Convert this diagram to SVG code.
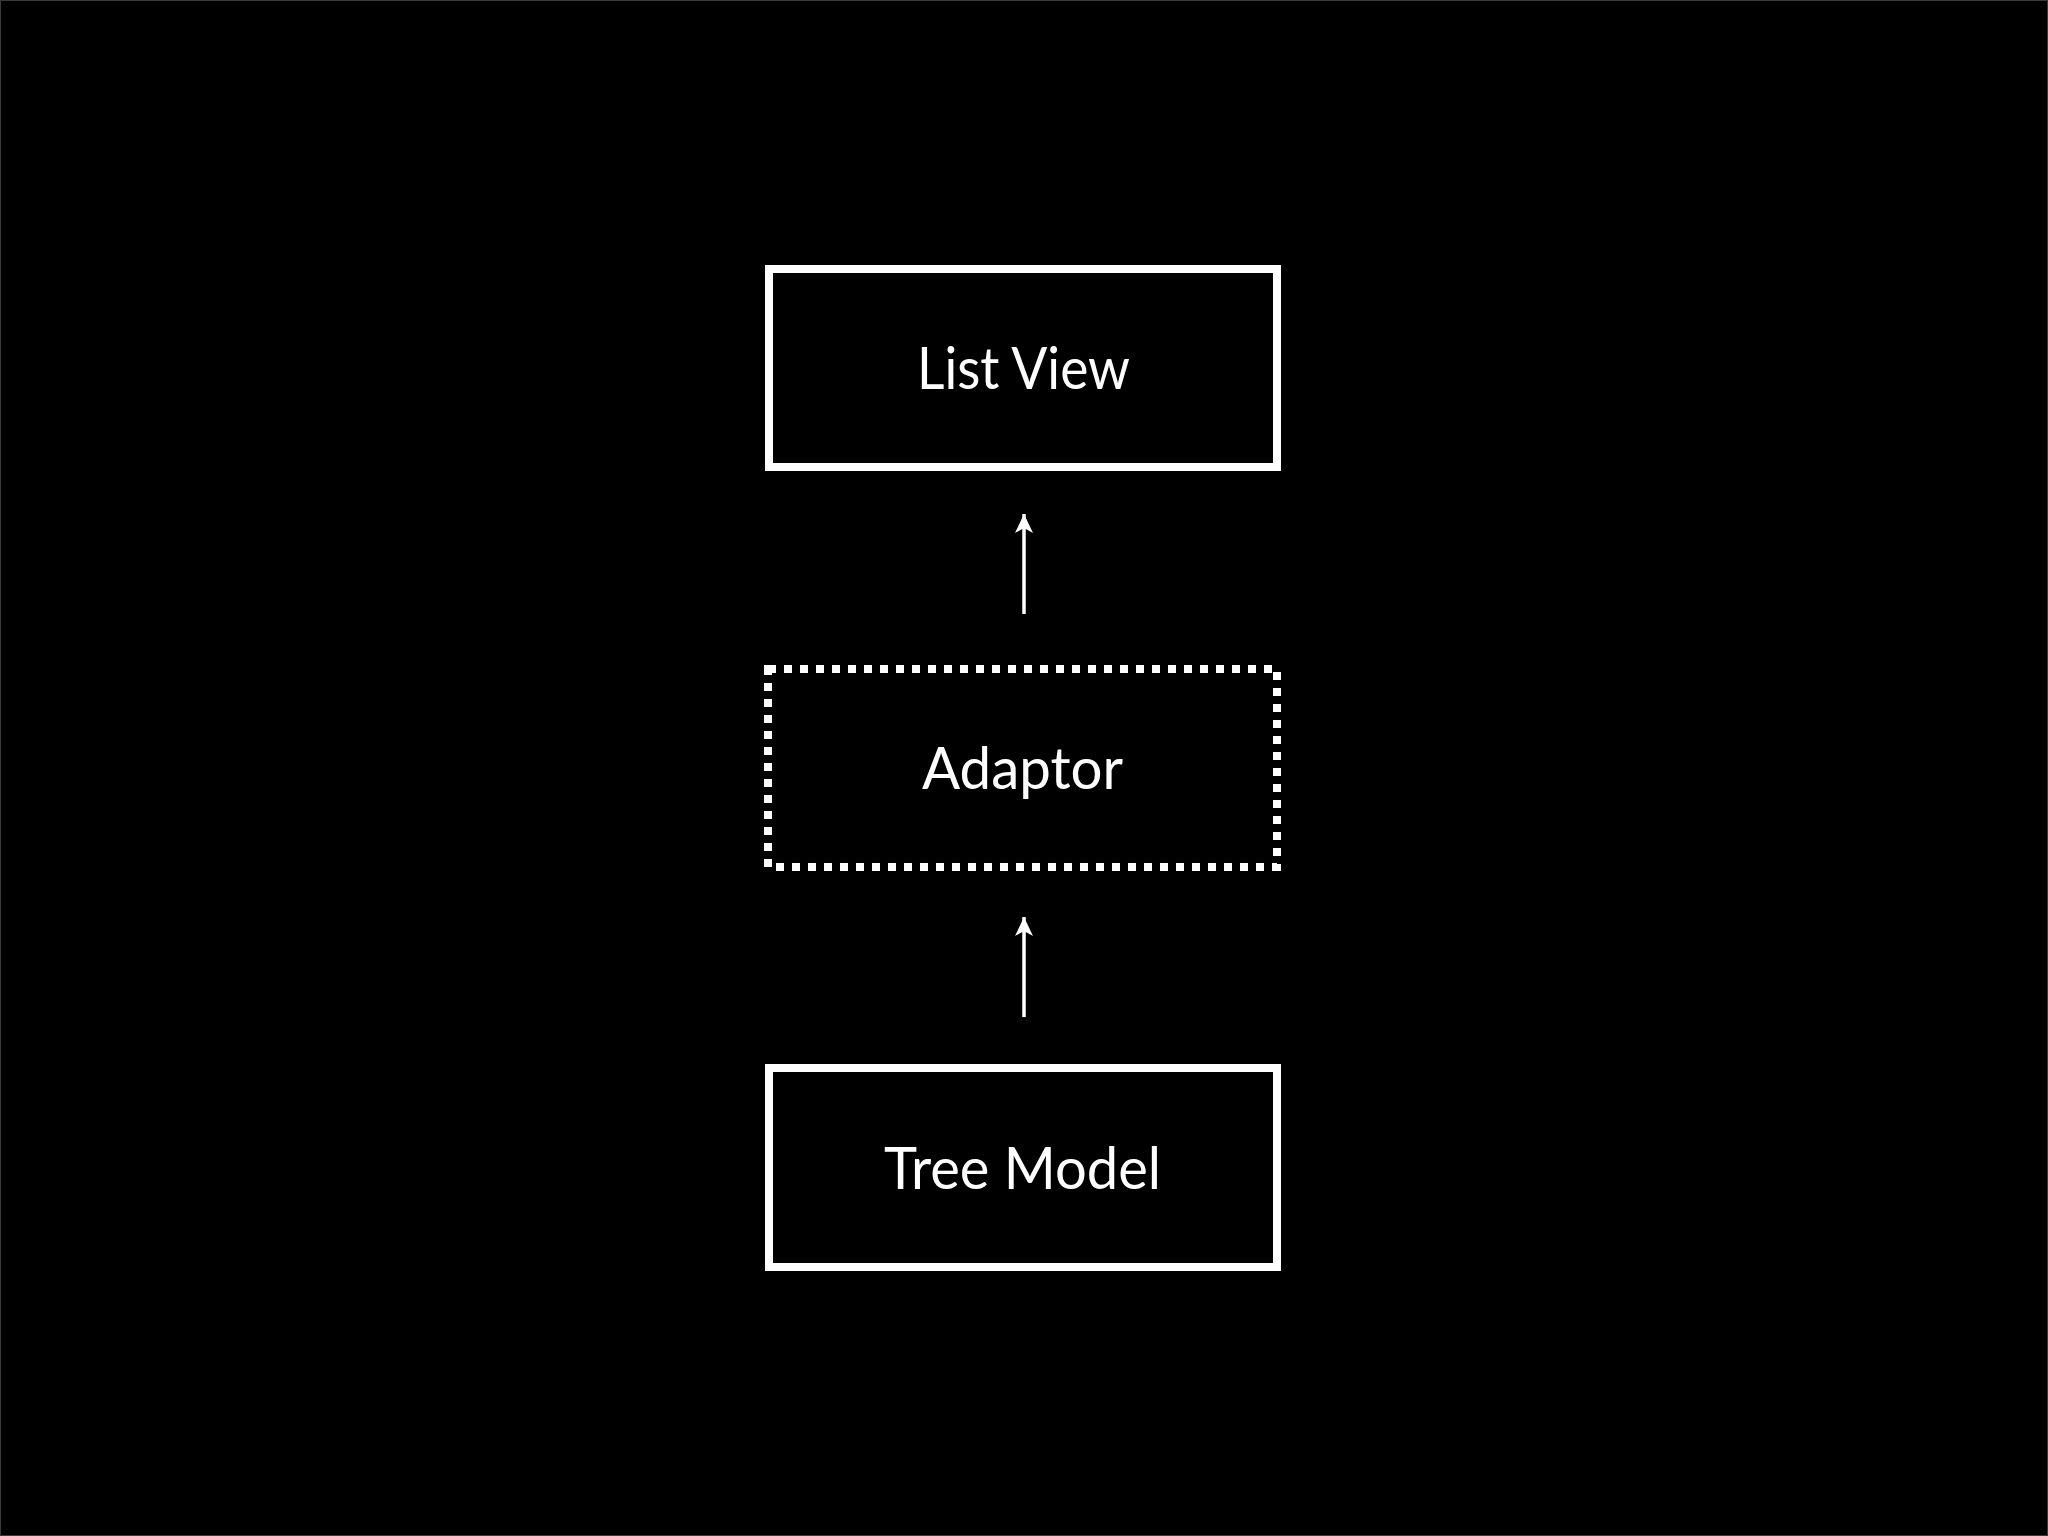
<svg xmlns="http://www.w3.org/2000/svg" width="2048" height="1536" viewBox="0 0 2048 1536">
<style>
.box{fill:none;stroke:#fff;stroke-width:8}
.dot{fill:none;stroke:#fff;stroke-width:8;stroke-dasharray:8 8}
.lbl{fill:#fff;font-family:Lato,"Open Sans",sans-serif;font-size:58px;text-anchor:middle}
.conn{stroke:#fff;stroke-width:3.5;fill:none}
</style>
<defs>
<marker id="arr" markerUnits="userSpaceOnUse" markerWidth="24" markerHeight="24" viewBox="0 0 24 24" refX="22" refY="12" orient="auto">
<path d="M22 12 L3 3 L8 12 L3 21 Z" fill="#fff"/>
</marker>
</defs>
<rect x="0" y="0" width="2048" height="1536" fill="#000"/>
<rect x="0.5" y="0.5" width="2047" height="1535" fill="none" stroke="#3a3a3a" stroke-width="1"/>
<g id="listview">
<rect class="box" x="769" y="269" width="508" height="198"/>
<text class="lbl" x="1023.5" y="389" textLength="213" lengthAdjust="spacingAndGlyphs">List View</text>
</g>
<g id="adaptor">
<rect class="dot" x="768" y="669" width="509" height="198"/>
<text class="lbl" x="1022.5" y="789" textLength="201" lengthAdjust="spacingAndGlyphs">Adaptor</text>
</g>
<g id="treemodel">
<rect class="box" x="769" y="1068" width="508" height="199"/>
<text class="lbl" x="1022.5" y="1189" textLength="277" lengthAdjust="spacingAndGlyphs">Tree Model</text>
</g>
<g id="connectors">
<line class="conn" x1="1024" y1="614" x2="1024" y2="514" marker-end="url(#arr)"/>
<line class="conn" x1="1024" y1="1017" x2="1024" y2="917" marker-end="url(#arr)"/>
</g>
</svg>
